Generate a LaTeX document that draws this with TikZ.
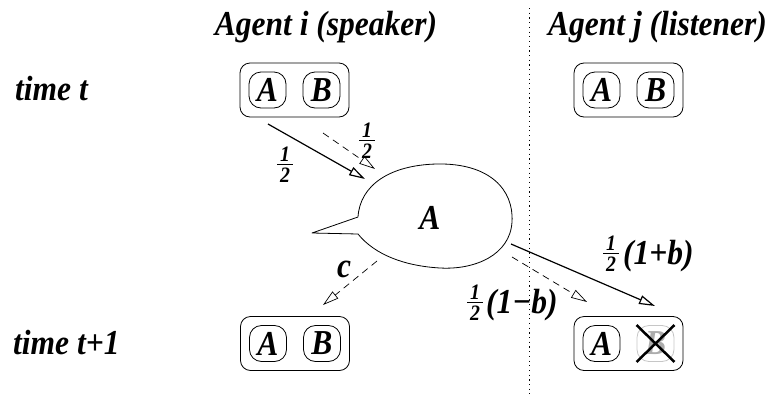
\documentclass[tikz,border=0pt]{standalone}
\usepackage{fontspec}
\setmainfont{Liberation Serif}[FakeStretch=0.9]
\usetikzlibrary{positioning,arrows.meta}

\newcommand{\half}{\raisebox{-7pt}{\fontsize{22}{22}\selectfont\vbox{\halign{\hfil\kern3pt##\kern3pt\hfil\cr 1\cr\noalign{\kern2pt\hrule height 1.2pt\kern3pt}2\cr}}}}

\begin{document}
\begin{tikzpicture}[
    x=1pt, y=-1pt,
    node distance=27pt,
    every node/.style={font=\fontsize{35}{40}\selectfont\bfseries\itshape, inner sep=0pt},
    agentbox/.style={draw, line width=0.8pt, rounded corners=10pt, minimum width=109pt, minimum height=54pt},
    token/.style={draw, line width=0.8pt, rounded corners=12pt, minimum width=37pt, minimum height=36pt},
    arrow/.style={-{Triangle[open, length=16pt, width=9pt]}, line width=1.2pt},
    dasharrow/.style={arrow, line width=0.7pt, dash pattern=on 7pt off 5pt}
]
    \useasboundingbox (0,0) rectangle (774,394);

    % headings
    \node[anchor=base] (agenti) at (326,35) {Agent i (speaker)};
    \node[anchor=base] (agentj) at (657.5,35) {Agent j (listener)};
    \node[anchor=base west] (timet) at (15,100) {time t};
    \node[anchor=base west] (timet1) at (13,354) {time t+1};

    \coordinate (divtop) at (529,8);
    \coordinate (divbot) at (529,394);
    \draw[line width=0.8pt, dash pattern=on 1.2pt off 3.5pt] (divtop) -- (divbot);

    % agents at time t
    \node[agentbox] (it) at (294.5,90) {};
    \node[token, left of=it] (itA) {A};
    \node[token, right of=it] (itB) {B};
    \node[agentbox] (jt) at (628.5,90) {};
    \node[token, left of=jt] (jtA) {A};
    \node[token, right of=jt] (jtB) {B};

    % agents at time t+1
    \node[agentbox] (it1) at (295,343.5) {};
    \node[token, left of=it1] (it1A) {A};
    \node[token, right of=it1] (it1B) {B};
    \node[agentbox] (jt1) at (628.5,343.5) {};
    \node[token, left of=jt1] (jt1A) {A};
    \node[token, right of=jt1, draw=gray!45, text=gray!65] (jt1B) {B};
    \draw[line width=2.5pt] (jt1B.north west) -- (jt1B.south east);
    \draw[line width=2.5pt] (jt1B.north east) -- (jt1B.south west);

    % speech bubble
    \draw[line width=0.8pt, line join=round] (358,217) .. controls (360,185) and (390,165) .. (437,164)
        .. controls (490,163) and (514,190) .. (512,222)
        .. controls (510,255) and (475,270) .. (440,268)
        .. controls (405,266) and (375,255) .. (358,234)
        -- (312,233) -- cycle;
    \node (word) at (430,218) {A};

    % transitions
    \coordinate (s1) at (268,124);
    \coordinate (e1) at (365,179);
    \coordinate (s2) at (323,133);
    \coordinate (e2) at (375,169);
    \coordinate (s3) at (377,261);
    \coordinate (e3) at (323,305);
    \coordinate (s4) at (511,244);
    \coordinate (e4) at (655,306);
    \coordinate (s5) at (512,257);
    \coordinate (e5) at (587,302);

    \draw[arrow] (s1) -- (e1);
    \draw[dasharrow] (s2) -- (e2);
    \draw[dasharrow] (s3) -- (e3);
    \draw[arrow] (s4) -- (e4);
    \draw[dasharrow] (s5) -- (e5);

    \node (h1) at (285,165) {\half};
    \node (h2) at (367,141) {\half};
    \node[anchor=base] (lc) at (344,277) {c};
    \node[anchor=west] (lp) at (603,254) {\half\kern4pt(1+b)};
    \node[anchor=west] (lm) at (467,303) {\half\kern3pt(1−b)};
\end{tikzpicture}
\end{document}
